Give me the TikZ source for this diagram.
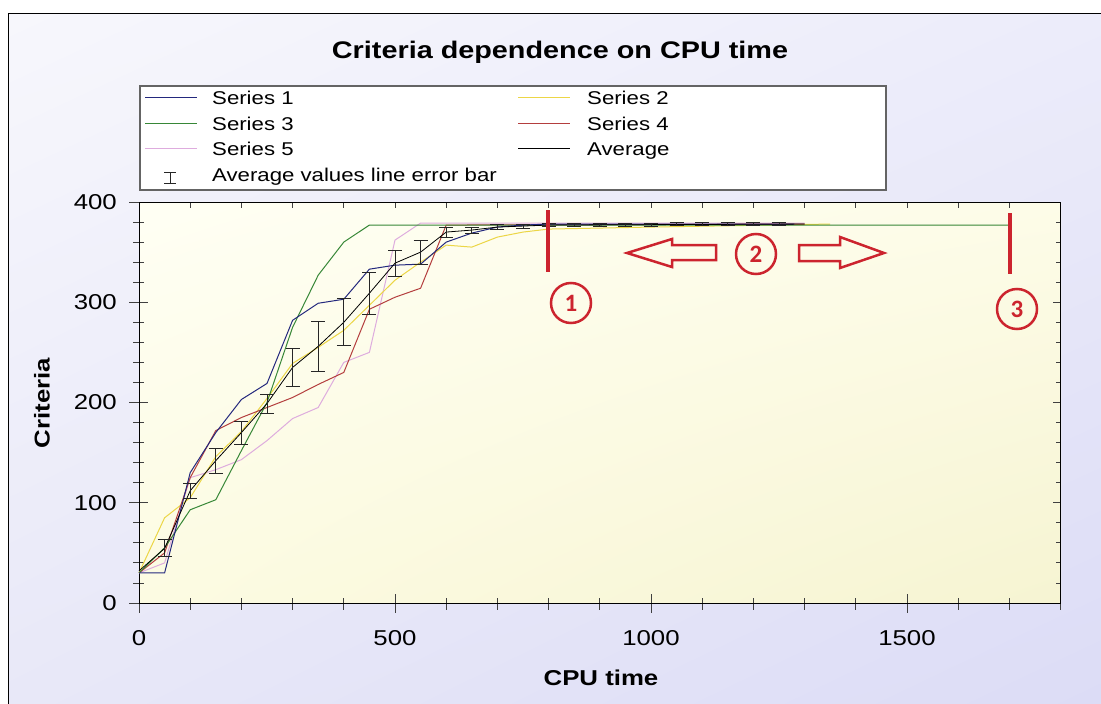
\documentclass[tikz,border=0pt]{standalone}
\usepackage{fontspec}
\setmainfont{Liberation Sans}[FakeStretch=1.2]
\newfontfamily\markfont{Carlito}
\usetikzlibrary{positioning,shadings}

\definecolor{seriesone}{RGB}{35,40,125}
\definecolor{seriestwo}{RGB}{236,214,70}
\definecolor{seriesthree}{RGB}{55,135,55}
\definecolor{seriesfour}{RGB}{180,62,62}
\definecolor{seriesfive}{RGB}{222,172,222}
\definecolor{marker}{RGB}{204,36,46}
\definecolor{legendgray}{RGB}{100,100,100}
\definecolor{paperul}{RGB}{247,247,252}
\definecolor{paperur}{RGB}{236,236,250}
\definecolor{paperll}{RGB}{232,232,248}
\definecolor{paperlr}{RGB}{220,220,246}
\definecolor{plotul}{RGB}{255,255,244}
\definecolor{plotur}{RGB}{253,252,232}
\definecolor{plotll}{RGB}{252,251,226}
\definecolor{plotlr}{RGB}{246,244,210}

\begin{document}
\begin{tikzpicture}
 [x=1pt,y=-1pt,
   every node/.style={inner sep=0pt},
   ticklabel/.style={font=\fontsize{21.5}{22}\selectfont},
   axislabel/.style={font=\bfseries\fontsize{21.5}{22}\selectfont},
   legendtext/.style={anchor=base west,font=\fontsize{18.5}{19}\selectfont},
   curve/.style={line width=1pt,line join=round},
   legendline/.style={line width=1.3pt},
   errbar/.style={line width=0.9pt,black!85},
   tickline/.style={line width=0.9pt,black!75},
   markline/.style={draw=marker,line width=3.5pt},
   markcircle/.style={circle,draw=marker,line width=2.5pt,minimum size=40pt,
     text=marker,font=\markfont\bfseries\fontsize{25}{25}\selectfont},
   markarrow/.style={draw=marker,line width=2.5pt,line join=miter}]
  \useasboundingbox (0,0) rectangle (1101,704);
  % backgrounds
  \shade[upper left=paperul,upper right=paperur,lower left=paperll,lower right=paperlr]
    (8.5,13.5) rectangle (1101,704);
  \draw[line width=1pt] (8.5,704) -- (8.5,13.5) -- (1101,13.5);
  \shade[upper left=plotul,upper right=plotur,lower left=plotll,lower right=plotlr]
    (139,202) rectangle (1061,603);

  \node[anchor=base,font=\bfseries\fontsize{24}{24}\selectfont] (title) at (560,58)
    {Criteria dependence on CPU time};

  % legend
  \node[draw=legendgray,line width=1.5pt,fill=white,anchor=north west,
        minimum width=746pt,minimum height=104pt] (legend) at (139,85) {};
  \draw[legendline,seriesone] (145,97.5) -- ++(52,0);
  \node[legendtext] (legone) at (212,104) {Series 1};
  \draw[legendline,seriesthree] (145,123.5) -- ++(52,0);
  \node[legendtext] (legthree) at (212,130) {Series 3};
  \draw[legendline,seriesfive] (145,148.5) -- ++(52,0);
  \node[legendtext] (legfive) at (212,155) {Series 5};
  \draw[legendline,seriestwo] (518,97.5) -- ++(52,0);
  \node[legendtext] (legtwo) at (587,104) {Series 2};
  \draw[legendline,seriesfour] (518,123.5) -- ++(52,0);
  \node[legendtext] (legfour) at (587,130) {Series 4};
  \draw[legendline,black] (518,148.5) -- ++(52,0);
  \node[legendtext] (legavg) at (587,155) {Average};
  \draw[errbar] (170,172) -- (170,183) (164,172) -- (176,172) (164,183) -- (176,183);
  \node[legendtext] (legerr) at (212,181) {Average values line error bar};

  % axis labels
  \node[axislabel] (xlabel) at (601,678) {CPU time};
  \node[axislabel,rotate=90] (ylabel) at (42,403) {Criteria};

  \begin{scope}[shift={(139,603)},x=0.512pt,y=1.0025pt]
    % ticks
    \foreach \x in {0,100,...,1800} {
      \draw[tickline] ([yshift=5pt]\x,0) -- ([yshift=-7pt]\x,0);
      \draw[tickline] (\x,400) -- ([yshift=-6pt]\x,400);
    }
    \foreach \x in {0,500,1000,1500} {
      \draw[tickline] ([yshift=9pt]\x,0) -- ([yshift=-10pt]\x,0);
      \node[ticklabel] (xt\x) at ([yshift=-35pt]\x,0) {\x};
    }
    \foreach \y in {0,20,...,400} {
      \draw[tickline] ([xshift=-6pt]0,\y) -- ([xshift=5pt]0,\y);
      \draw[tickline] (1800,\y) -- ([xshift=-5pt]1800,\y);
    }
    \foreach \y in {0,100,...,400} {
      \draw[tickline] ([xshift=-10pt]0,\y) -- ([xshift=9pt]0,\y);
      \draw[tickline] (1800,\y) -- ([xshift=-8pt]1800,\y);
      \node[ticklabel,anchor=east] (yt\y) at ([xshift=-22pt]0,\y) {\y};
    }
    \draw[line width=1pt] (0,0) rectangle (1800,400);

    % series
    \draw[curve,seriesfive] plot coordinates {(0,30) (50,40) (100,125) (150,133)
      (200,143) (250,162) (300,184) (350,195) (400,240) (450,250) (500,362)
      (550,379) (1300,379)};
    \draw[curve,seriestwo] plot coordinates {(0,30) (50,85) (100,105) (150,146)
      (200,171) (250,204) (300,239) (350,255) (400,272) (450,297) (500,322)
      (550,340) (600,357) (650,355) (700,365) (750,370) (800,373) (1000,375)
      (1350,378)};
    \draw[curve,seriesfour] plot coordinates {(0,30) (50,50) (100,125) (150,172)
      (200,185) (250,195) (300,205) (350,218) (400,230) (450,293) (500,305)
      (550,314) (600,377) (1300,378)};
    \draw[curve,seriesthree] plot coordinates {(0,30) (50,55) (100,93) (150,103)
      (200,152) (250,200) (300,275) (350,327) (400,360) (450,377) (1700,377)};
    \draw[curve,seriesone] plot coordinates {(0,30) (50,30) (100,130) (150,170)
      (200,203) (250,219) (300,282) (350,299) (400,303) (450,333) (500,337)
      (550,338) (600,360) (650,369) (700,375) (750,377) (800,378) (1280,378)};
    \draw[curve,black,line width=0.8pt] plot coordinates {(0,32) (50,54.5) (100,112)
      (150,142) (200,170) (250,199) (300,235) (350,256) (400,280) (450,309)
      (500,339) (550,350) (600,370) (650,372) (700,375) (750,376) (800,377)
      (1300,378)};
    % error bars
    \foreach \x/\m/\h in {50/54.5/8.5, 100/112/7.5, 150/142/12.5, 200/170/11.5,
        250/199/9.5, 300/235/19, 350/256/25, 400/280/23.5, 450/309/21,
        500/339/13, 550/350/12, 600/370/5, 650/372/3, 700/375/2.5,
        750/376/2, 800/377/1.5, 850/377/1.5, 900/377.5/1.5, 950/377.5/1.5,
        1000/377.5/1.5, 1050/378/1.5, 1100/378/1.5, 1150/378/1.5,
        1200/378/1.5, 1250/378/1.5} {
      \draw[errbar] (\x,\m-\h) -- (\x,\m+\h);
      \draw[errbar] ([xshift=-7pt]\x,\m-\h) -- ([xshift=7pt]\x,\m-\h);
      \draw[errbar] ([xshift=-7pt]\x,\m+\h) -- ([xshift=7pt]\x,\m+\h);
    }
  \end{scope}

  % annotations
  \coordinate (cutonetop) at (548,210);
  \coordinate (cutonebot) at (548,272);
  \coordinate (cutthreetop) at (1010,213);
  \coordinate (cutthreebot) at (1010,274);
  \draw[markline] (cutonetop) -- (cutonebot);
  \draw[markline] (cutthreetop) -- (cutthreebot);
  \node[markcircle] (mark1) at (571,303) {1};
  \node[markcircle] (mark2) at (756,254) {2};
  \node[markcircle] (mark3) at (1017,309) {3};
  \draw[markarrow] (627,253) -- (672,239) -- (672,245) -- (716,245) -- (716,260)
    -- (672,260) -- (672,267) -- cycle;
  \draw[markarrow] (884,253) -- (840,237) -- (840,245) -- (799,245) -- (799,261)
    -- (840,261) -- (840,268) -- cycle;
\end{tikzpicture}
\end{document}
